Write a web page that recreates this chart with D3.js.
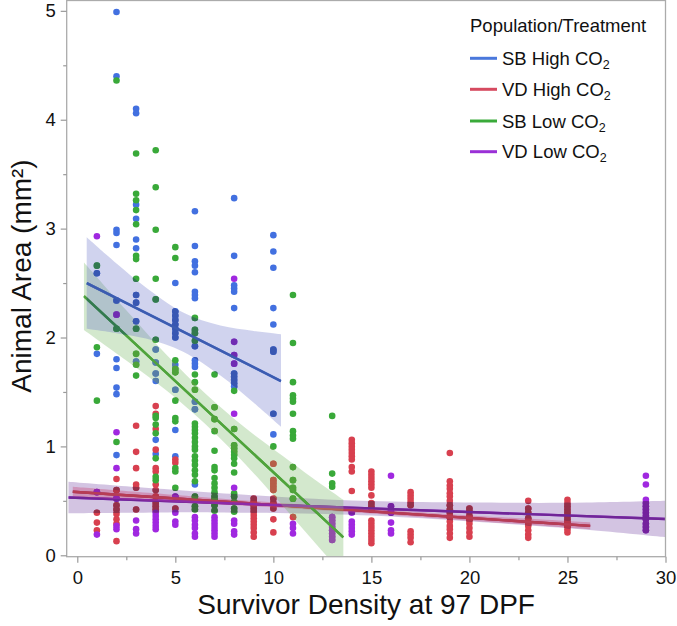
<!DOCTYPE html>
<html><head><meta charset="utf-8">
<script src="https://cdn.jsdelivr.net/npm/d3@7"></script>
<style>body{margin:0;background:#fff} svg{display:block} text{font-family:"Liberation Sans",Arial,Helvetica,sans-serif}</style>
</head><body><svg id="c" width="677" height="626"></svg>
<script>
// ---------- data ----------
const seriesNames = ["SB High CO", "VD High CO", "SB Low CO", "VD Low CO"]; // + subscript 2
const seriesColors = ["#4270e0", "#d8404f", "#39a939", "#a028e0"];
const lineColors = ["#4a78dc", "#d64a60", "#3aaa3a", "#9a30d6"];
const xTicks = [0, 5, 10, 15, 20, 25, 30];
const yTicks = [0, 1, 2, 3, 4, 5];
const xMinor = [2.5, 7.5, 12.5, 17.5, 22.5, 27.5];
const yMinor = [0.5, 1.5, 2.5, 3.5, 4.5];

// [survivor density, [animal areas]]
const sbHigh = [
  [1, [2.59, 1.85]],
  [2, [4.99, 4.40, 2.99, 2.96, 2.85, 2.34, 1.80, 1.72, 1.54, 1.48, 0.92]],
  [3, [4.10, 4.06, 3.22, 3.09, 2.90, 2.82, 2.39, 2.32, 2.15, 1.78]],
  [4, [1.89, 1.77, 1.67, 1.60, 1.06, 0.93]],
  [5, [2.50, 2.24, 2.20, 2.16, 2.12, 2.08, 2.04, 2.00, 1.75, 1.52, 1.15, 0.91]],
  [6, [3.16, 2.84, 2.70, 2.66, 2.60, 2.42, 2.39, 2.36, 1.92, 1.79, 1.76, 1.73, 1.41, 1.34, 0.65]],
  [8, [3.28, 2.75, 2.48, 2.45, 2.42, 2.27, 1.67, 1.64, 1.61, 1.58, 1.55]],
  [10, [2.94, 2.79, 2.64, 2.27, 2.12, 1.89, 1.87, 1.30, 1.11]]
];
const vdHigh = [
  [1, [0.39, 0.30, 0.23]],
  [2, [0.70, 0.60, 0.46, 0.42, 0.38, 0.33, 0.29, 0.13]],
  [3, [1.19, 0.95, 0.80, 0.65, 0.62, 0.42]],
  [4, [1.37, 1.30, 1.16, 0.97, 0.80, 0.77, 0.65, 0.60, 0.54, 0.48, 0.45, 0.42]],
  [5, [0.88, 0.85, 0.43]],
  [9, [0.52, 0.49, 0.46, 0.43, 0.40, 0.37, 0.34, 0.31, 0.28, 0.25, 0.21, 0.17]],
  [10, [0.84, 0.69, 0.66, 0.63, 0.60, 0.52, 0.48, 0.43, 0.33, 0.21]],
  [11, [0.35]],
  [14, [1.06, 1.03, 1.00, 0.97, 0.94, 0.91, 0.88, 0.81, 0.77, 0.59]],
  [15, [0.77, 0.74, 0.71, 0.68, 0.65, 0.62, 0.55, 0.48, 0.45, 0.42, 0.32, 0.29, 0.26, 0.23, 0.20, 0.17, 0.14, 0.11]],
  [17, [0.58, 0.55, 0.52, 0.49, 0.46, 0.22, 0.19, 0.16, 0.12]],
  [19, [0.94, 0.68, 0.64, 0.61, 0.57, 0.54, 0.50, 0.46, 0.42, 0.39, 0.35, 0.31, 0.27, 0.24, 0.20, 0.16]],
  [20, [0.43, 0.40, 0.36, 0.32, 0.29, 0.25, 0.21, 0.17]],
  [23, [0.50, 0.43, 0.39, 0.34, 0.30, 0.27, 0.23, 0.19, 0.16]],
  [25, [0.51, 0.48, 0.45, 0.42, 0.39, 0.36, 0.33, 0.30, 0.27, 0.24, 0.21]]
];
const sbLow = [
  [1, [2.66, 1.91, 1.42]],
  [2, [4.36, 2.08, 1.04]],
  [3, [3.69, 3.32, 3.26, 3.17, 3.04, 2.75, 2.72, 2.54, 2.08, 1.85, 1.75, 1.65]],
  [4, [3.72, 3.38, 2.99, 2.54, 2.35, 1.98, 1.28, 1.26, 1.20, 1.12, 0.89, 0.72, 0.69]],
  [5, [2.83, 2.73, 1.79, 1.71, 1.68, 1.42, 1.26, 1.23, 0.80, 0.77, 0.62]],
  [6, [2.18, 2.07, 2.04, 1.97, 1.66, 1.59, 1.52, 1.21, 1.18, 1.15, 1.12, 1.08, 1.04, 1.00, 0.97, 0.91, 0.87, 0.83, 0.78, 0.74, 0.68, 0.54, 0.45, 0.42]],
  [7, [1.66, 1.36, 1.25, 1.14, 0.96, 0.81, 0.78, 0.71, 0.66, 0.62, 0.58, 0.54, 0.51, 0.46, 0.41]],
  [8, [1.51, 1.16, 1.01, 0.98, 0.95, 0.92, 0.89, 0.84, 0.76, 0.57, 0.54, 0.49, 0.43, 0.40]],
  [10, [1.00]],
  [11, [2.39, 1.95, 1.59, 1.47, 1.44, 1.41, 1.30, 1.14, 1.10, 1.07, 0.81, 0.69, 0.62, 0.60, 0.52]],
  [13, [1.28, 0.75, 0.66, 0.63]]
];
const vdLow = [
  [1, [2.93, 0.58, 0.19]],
  [2, [2.21, 1.13, 0.80, 0.52, 0.27, 0.24]],
  [3, [0.32, 0.24, 0.20]],
  [4, [0.39, 0.36, 0.33, 0.30, 0.27, 0.24]],
  [5, [0.54, 0.39, 0.31, 0.28]],
  [6, [0.35, 0.32, 0.28, 0.25, 0.20, 0.17]],
  [7, [0.35, 0.32, 0.29, 0.26, 0.23, 0.20, 0.17]],
  [8, [2.54, 1.96, 1.84, 1.76, 1.30, 0.62, 0.32, 0.29, 0.22, 0.19]],
  [11, [0.29, 0.25, 0.20]],
  [13, [0.35, 0.32, 0.29, 0.26, 0.23, 0.20, 0.17, 0.14]],
  [14, [0.39, 0.31, 0.28, 0.25, 0.22, 0.19]],
  [16, [0.73, 0.45, 0.42, 0.39, 0.30, 0.23, 0.20]],
  [29, [0.73, 0.65, 0.51, 0.48, 0.45, 0.42, 0.39, 0.36, 0.33, 0.29, 0.26, 0.23]]
];

// fitted lines: [x, y] endpoints
const sbHighFit = [[0.48, 2.50], [10.39, 1.60]];
const vdHighFit = [[-0.23, 0.584], [26.16, 0.27]];
const sbLowFit = [[0.34, 2.38], [13.57, 0.165]];
const vdLowFit = [[-0.45, 0.53], [30.0, 0.333]];

// confidence bands: [x, lower, upper]
const sbHighBand = [[0.48, 2.08, 2.92], [2, 2.04, 2.68], [3.5, 1.99, 2.46], [5.4, 1.87, 2.23], [7.3, 1.65, 2.11], [9, 1.40, 2.06], [10.39, 1.18, 2.03]];
const vdHighBand = [[-0.23, 0.539, 0.629], [6, 0.48, 0.54], [12, 0.418, 0.458], [19, 0.332, 0.378], [26.16, 0.238, 0.302]];
const sbLowBand = [[0.34, 2.07, 2.69], [2.5, 1.79, 2.25], [4.5, 1.52, 1.85], [6.5, 1.21, 1.49], [8.5, 0.85, 1.18], [10.5, 0.45, 0.91], [12, 0.14, 0.71], [13.57, -0.18, 0.51]];
const vdLowBand = [[-0.45, 0.385, 0.675], [3, 0.39, 0.626], [7, 0.394, 0.574], [14, 0.372, 0.502], [22, 0.288, 0.482], [26, 0.234, 0.484], [30, 0.166, 0.50]];

// ---------- chart ----------
const svg = d3.select("#c");
const L = 66.7, R = 665.5, T = 0.5, B = 556.7;
const x = d3.scaleLinear().domain([-0.54, 30.0]).range([L, R]);
const y = d3.scaleLinear().domain([-0.013, 5.095]).range([B, T]);

const defs = svg.append("defs");
defs.append("clipPath").attr("id", "plotclip").append("rect")
  .attr("x", L).attr("y", T).attr("width", R - L).attr("height", B - T);

const series = [
  {pts: sbHigh, fit: sbHighFit, color: seriesColors[0], line: lineColors[0]},
  {pts: vdHigh, fit: vdHighFit, color: seriesColors[1], line: lineColors[1]},
  {pts: sbLow, fit: sbLowFit, color: seriesColors[2], line: lineColors[2]},
  {pts: vdLow, fit: vdLowFit, color: seriesColors[3], line: lineColors[3]}
];
const flat = [];
series.forEach(s => s.pts.forEach(([xv, ys]) => ys.forEach(v => flat.push({x: xv, y: v, c: s.color}))));

const plot = svg.append("g").attr("clip-path", "url(#plotclip)");
const lineGen = d3.line().x(d => x(d[0])).y(d => y(d[1]));

function drawMarks(g, colorFn) {
  g.selectAll("circle").data(flat).join("circle")
    .attr("cx", d => x(d.x)).attr("cy", d => y(d.y)).attr("r", 3.3)
    .attr("fill", d => colorFn(d.c));
  series.forEach(s => {
    g.append("path").attr("d", lineGen(s.fit)).attr("fill", "none")
      .attr("stroke", colorFn(s.line)).attr("stroke-width", 2.4);
  });
}
drawMarks(plot.append("g"), c => c);

const bandSpecs = [
  {band: vdLowBand, fill: "rgb(110,60,160)", op: 0.3, shade: "rgb(55,25,65)", t: 0.42},
  {band: vdHighBand, fill: "rgb(200,60,110)", op: 0.35, shade: "rgb(110,30,60)", t: 0.3},
  {band: sbLowBand, fill: "rgb(110,180,90)", op: 0.3, shade: "rgb(120,150,60)", t: 0.35},
  {band: sbHighBand, fill: "rgb(100,110,200)", op: 0.3, shade: "rgb(40,50,110)", t: 0.4}
];
const area = d3.area().x(d => x(d[0])).y0(d => y(d[1])).y1(d => y(d[2])).curve(d3.curveCatmullRom);
bandSpecs.forEach((b, i) => {
  const dPath = area(b.band);
  defs.append("clipPath").attr("id", "bandclip" + i).append("path").attr("d", dPath);
  plot.append("path").attr("d", dPath).attr("fill", b.fill).attr("fill-opacity", b.op);
  const g = plot.append("g").attr("clip-path", "url(#bandclip" + i + ")");
  drawMarks(g, c => d3.interpolateRgb(c, b.shade)(b.t));
});

// frame
svg.append("rect").attr("x", L).attr("y", T).attr("width", R - L).attr("height", B - T)
  .attr("fill", "none").attr("stroke", "#ababab").attr("stroke-width", 1.3);

// axes
function styleAxis(g) {
  g.select(".domain").remove();
  g.selectAll("line").attr("stroke", "#9a9a9a").attr("stroke-width", 1.2);
  g.selectAll("text").attr("fill", "#111").style("font-size", "18.5px")
    .style("font-family", '"Liberation Sans",Arial,sans-serif');
}
const fmt = d3.format("d");
svg.append("g").attr("transform", `translate(0,${B})`)
  .call(d3.axisBottom(x).tickValues(xTicks).tickFormat(fmt).tickSize(6).tickPadding(8)).call(styleAxis);
svg.append("g").attr("transform", `translate(0,${B})`)
  .call(d3.axisBottom(x).tickValues(xMinor).tickSize(3.5).tickFormat("")).call(styleAxis);
svg.append("g").attr("transform", `translate(${L},0)`)
  .call(d3.axisLeft(y).tickValues(yTicks).tickFormat(fmt).tickSize(6).tickPadding(5)).call(styleAxis);
svg.append("g").attr("transform", `translate(${L},0)`)
  .call(d3.axisLeft(y).tickValues(yMinor).tickSize(3.5).tickFormat("")).call(styleAxis);

// titles
svg.append("text").attr("x", (L + R) / 2).attr("y", 614).attr("text-anchor", "middle")
  .style("font-size", "28px").attr("fill", "#111").text("Survivor Density at 97 DPF");
svg.append("text").attr("transform", "translate(31,276) rotate(-90)").attr("text-anchor", "middle")
  .style("font-size", "28px").attr("fill", "#111").text("Animal Area (mm²)");

// legend
const lg = svg.append("g");
lg.append("text").attr("x", 470).attr("y", 31.5).style("font-size", "18.5px").attr("fill", "#111")
  .text("Population/Treatment");
const rowsY = [58.3, 89.3, 121, 151.7];
seriesNames.forEach((n, i) => {
  lg.append("line").attr("x1", 470).attr("x2", 497).attr("y1", rowsY[i]).attr("y2", rowsY[i])
    .attr("stroke", lineColors[i]).attr("stroke-width", 3);
  const t = lg.append("text").attr("x", 502).attr("y", rowsY[i] + 6.7)
    .style("font-size", "18.5px").attr("fill", "#111");
  t.append("tspan").text(n);
  t.append("tspan").attr("dy", 4).style("font-size", "12.5px").text("2");
});
</script></body></html>
